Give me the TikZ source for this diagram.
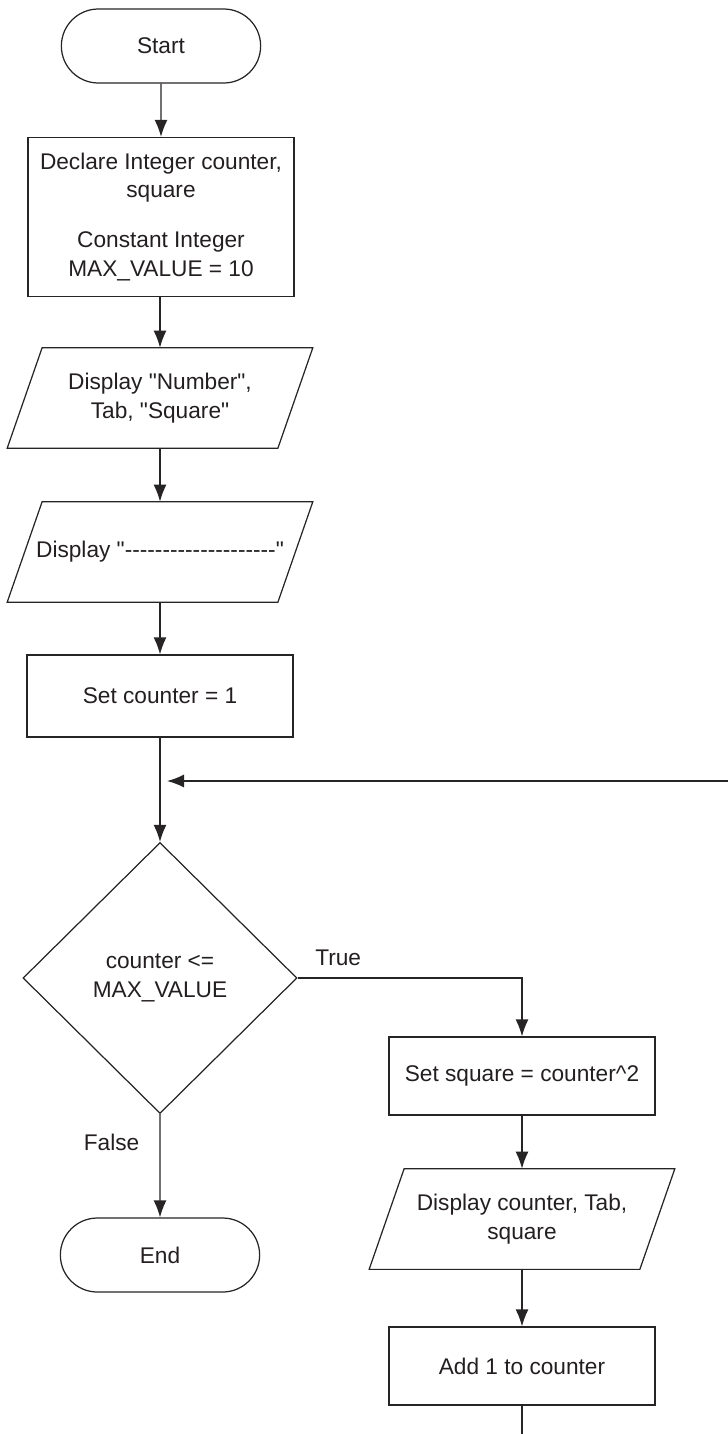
\documentclass[tikz,border=0pt]{standalone}
\usepackage{fontspec}
\setmainfont{Liberation Sans}[Ligatures=TeXOff]
\definecolor{inkline}{HTML}{262424}
\definecolor{inktext}{HTML}{231F20}
\usetikzlibrary{shapes.geometric,shapes.misc,arrows.meta,positioning}

\begin{document}
\begin{tikzpicture}[
      font=\fontsize{12.9}{16.2}\selectfont, text=inktext,
      term/.style={draw=inkline, line width=0.7pt, rounded rectangle, minimum width=4.22cm, minimum height=1.48cm},
      proc/.style={draw=inkline, line width=0.7pt, align=center, minimum width=5.32cm, minimum height=1.6cm},
      io/.style={align=center, minimum width=5.4cm, minimum height=2cm, inner sep=0pt,
        append after command={\pgfextra{\draw[draw=inkline, line width=0.7pt]
          ([xshift=0.35cm]\tikzlastnode.north west) -- ([xshift=0.35cm]\tikzlastnode.north east)
          -- ([xshift=-0.35cm]\tikzlastnode.south east) -- ([xshift=-0.35cm]\tikzlastnode.south west) -- cycle;}}},
      cond/.style={draw=inkline, line width=0.7pt, diamond, aspect=1, align=center, minimum width=5.48cm, minimum height=5.42cm, inner sep=0pt},
      flow/.style={draw=inkline, line width=0.8pt, -{Latex[length=3.4mm,width=2.6mm]}},
      lbl/.style={inner sep=0pt}
    ]
    \useasboundingbox (0,0) rectangle (14.56,-28.68);
    \node[term] (start) at (3.22,-0.92) {Start};
    \node[proc, minimum height=3.18cm] (decl) at (3.22,-4.34) {Declare Integer counter,\\ square\\[0.43cm] Constant Integer\\ MAX\_VALUE = 10};
    \node[io] (hdr) at (3.2,-7.96) {Display "Number",\\ Tab, "Square"};
    \node[io] (rule) at (3.2,-11.04) {Display "--------------------"};
    \node[proc, minimum height=1.64cm] (init) at (3.2,-13.92) {Set counter = 1};
    \node[cond] (test) at (3.2,-19.56) {counter <=\\ MAX\_VALUE};
    \node[term] (stop) at (3.2,-25.1) {End};
    \node[proc, minimum height=1.56cm] (calc) at (10.44,-21.52) {Set square = counter\textasciicircum 2};
    \node[io] (show) at (10.44,-24.38) {Display counter, Tab,\\ square};
    \node[proc, minimum height=1.56cm] (incr) at (10.44,-27.32) {Add 1 to counter};
    \coordinate (back) at (14.56,-15.62);
    \coordinate (join) at (3.34,-15.62);
    \coordinate (out) at (10.44,-28.68);
    \draw[flow] (start) -- (decl);
    \draw[flow] (decl.south -| hdr) -- (hdr);
    \draw[flow] (hdr) -- (rule);
    \draw[flow] (rule) -- (init);
    \draw[flow] (init) -- (test);
    \draw[flow] (back) -- (join);
    \draw[flow] (test.east) node[lbl, anchor=south west, xshift=0.34cm, yshift=0.24cm] {True} -| (calc.north);
    \draw[flow] (test) -- node[lbl, pos=0.35, anchor=base east, xshift=-0.4cm] {False} (stop);
    \draw[flow] (calc) -- (show);
    \draw[flow] (show) -- (incr);
    \draw[draw=inkline, line width=0.8pt] (incr) -- (out);
  \end{tikzpicture}
\end{document}
